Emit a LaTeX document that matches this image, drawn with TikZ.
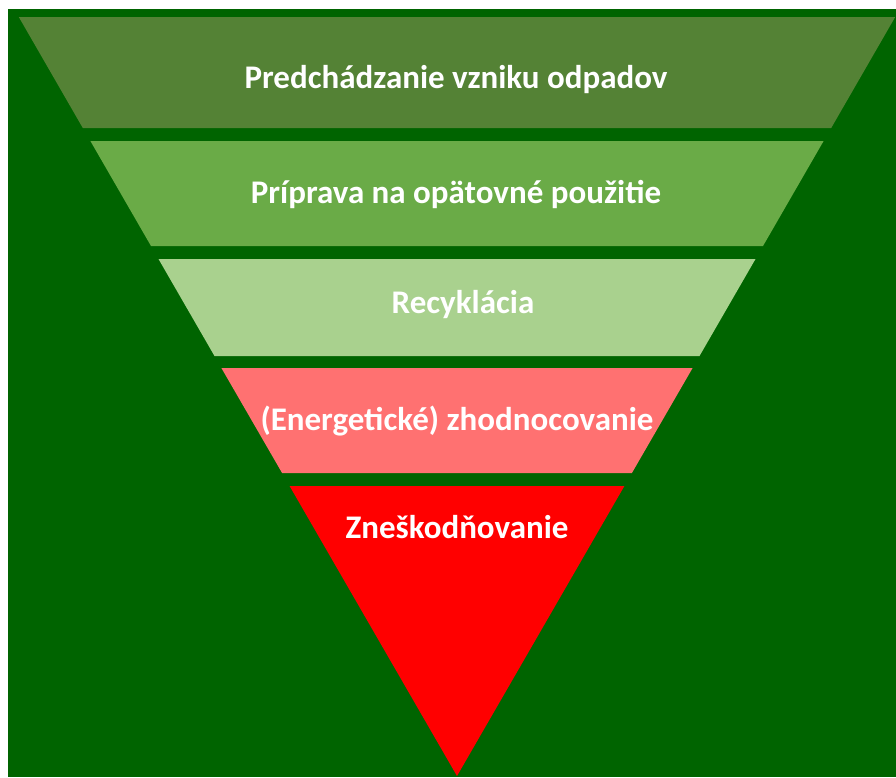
\documentclass[tikz,border=0pt]{standalone}
\usepackage{fontspec}
\setmainfont{Carlito}
\usetikzlibrary{positioning}

\definecolor{bggreen}{HTML}{006400}
\definecolor{tierone}{HTML}{548235}
\definecolor{tiertwo}{HTML}{6AAB47}
\definecolor{tierthree}{HTML}{A9D18E}
\definecolor{tierfour}{HTML}{FF7171}
\definecolor{tierfive}{HTML}{FF0000}

\begin{document}
\begin{tikzpicture}[x=1pt,y=-1pt]
    \tikzstyle{band}=[draw=none]
    \tikzstyle{tiertext}=[text=white,font=\fontsize{33}{40}\selectfont\bfseries,anchor=base,inner sep=0pt]

    \useasboundingbox (0,0) rectangle (896,777);
    \fill[bggreen] (8,9) rectangle (896,777);

    % corners of the tiers, sides at 60 degrees
    \coordinate (a1) at (18.8,17);  \coordinate (b1) at (895.2,17);
    \coordinate (c1) at (82.8,128); \coordinate (d1) at (831.2,128);
    \coordinate (a2) at (90.4,141); \coordinate (b2) at (823.6,141);
    \coordinate (c2) at (151.0,246);\coordinate (d2) at (763.0,246);
    \coordinate (a3) at (158.5,259);\coordinate (b3) at (755.5,259);
    \coordinate (c3) at (214.5,356);\coordinate (d3) at (699.5,356);
    \coordinate (a4) at (221.4,368);\coordinate (b4) at (692.6,368);
    \coordinate (c4) at (282.1,473);\coordinate (d4) at (631.9,473);
    \coordinate (a5) at (289.6,486);\coordinate (b5) at (624.4,486);
    \coordinate (tip) at (457,776);

    \fill[band,tierone]   (a1) -- (b1) -- (d1) -- (c1) -- cycle;
    \fill[band,tiertwo]   (a2) -- (b2) -- (d2) -- (c2) -- cycle;
    \fill[band,tierthree] (a3) -- (b3) -- (d3) -- (c3) -- cycle;
    \fill[band,tierfour]  (a4) -- (b4) -- (d4) -- (c4) -- cycle;
    \fill[band,tierfive]  (a5) -- (b5) -- (tip) -- cycle;

    \node (prevent)[tiertext] at (456,88)  {Predchádzanie vzniku odpadov};
    \node (reuse)[tiertext]   at (456,203) {Príprava na opätovné použitie};
    \node (recycle)[tiertext] at (463,313) {Recyklácia};
    \node (recover)[tiertext] at (457,430) {(Energetické) zhodnocovanie};
    \node (dispose)[tiertext] at (457,538) {Zneškodňovanie};
\end{tikzpicture}
\end{document}
